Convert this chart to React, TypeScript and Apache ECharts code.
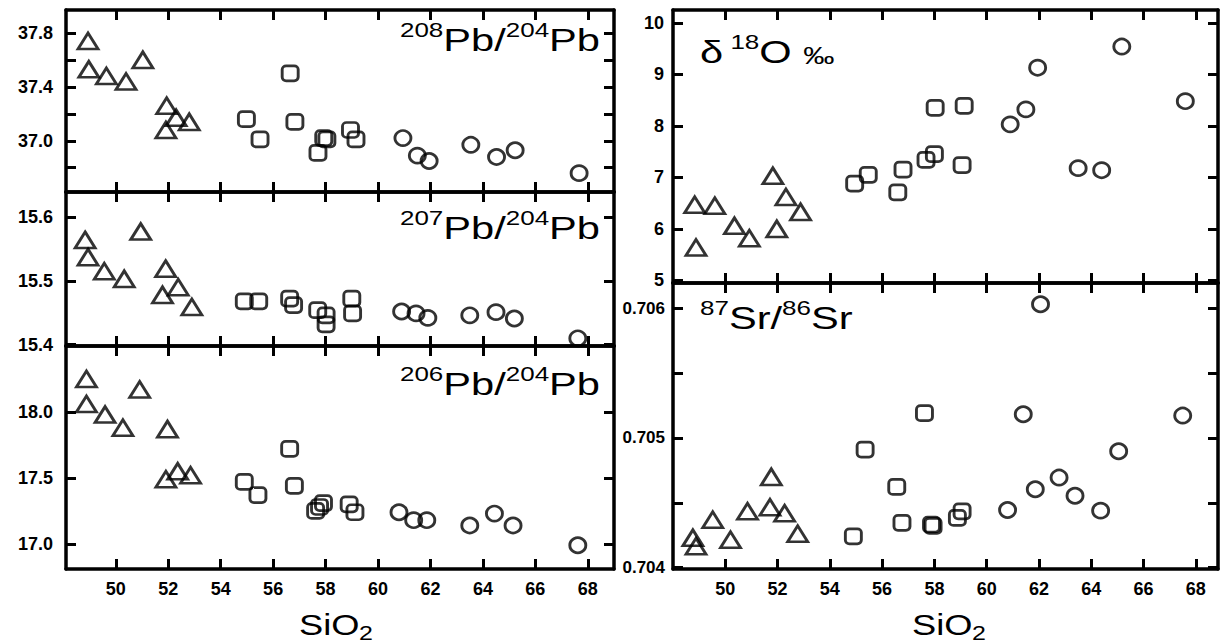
import React, { useEffect, useRef } from 'react';
import * as echarts from 'echarts';

// ---------- data ----------
const SIO2_TICKS = [50, 52, 54, 56, 58, 60, 62, 64, 66, 68];

const PB208_TICKS = [36.8, 37.0, 37.2, 37.4, 37.6, 37.8];
const PB208_LABELS = [37.0, 37.4, 37.8];
const pb208Tri = [[48.94, 37.74], [48.97, 37.53], [49.64, 37.48], [50.39, 37.44], [51.03, 37.6], [51.94, 37.26], [51.91, 37.08], [52.3, 37.17], [52.8, 37.14]];
const pb208Sq = [[54.98, 37.16], [55.5, 37.01], [56.65, 37.5], [56.83, 37.14], [57.71, 36.91], [57.93, 37.02], [58.05, 37.01], [58.95, 37.08], [59.16, 37.01]];
const pb208Ci = [[60.95, 37.02], [61.5, 36.89], [61.95, 36.85], [63.54, 36.97], [64.52, 36.88], [65.23, 36.93], [67.67, 36.76]];

const PB207_TICKS = [15.4, 15.5, 15.6];
const PB207_LABELS = [15.4, 15.5, 15.6];
const pb207Tri = [[48.83, 15.564], [48.94, 15.537], [49.56, 15.515], [50.32, 15.503], [50.95, 15.577], [51.9, 15.519], [51.78, 15.478], [52.38, 15.49], [52.9, 15.459]];
const pb207Sq = [[54.9, 15.468], [55.45, 15.468], [56.63, 15.472], [56.78, 15.462], [57.7, 15.454], [58.02, 15.446], [58.02, 15.432], [59.0, 15.472], [59.03, 15.449]];
const pb207Ci = [[60.9, 15.452], [61.45, 15.449], [61.9, 15.442], [63.5, 15.446], [64.5, 15.451], [65.2, 15.441], [67.62, 15.41]];

const PB206_TICKS = [17.0, 17.5, 18.0];
const PB206_LABELS = [17.0, 17.5, 18.0];
const pb206Tri = [[48.88, 18.25], [48.88, 18.06], [49.59, 17.98], [50.27, 17.88], [50.91, 18.17], [51.97, 17.87], [51.91, 17.49], [52.36, 17.55], [52.85, 17.52]];
const pb206Sq = [[54.9, 17.47], [55.42, 17.37], [56.63, 17.72], [56.81, 17.44], [57.62, 17.25], [57.77, 17.28], [57.92, 17.31], [58.9, 17.3], [59.12, 17.24]];
const pb206Ci = [[60.8, 17.24], [61.36, 17.18], [61.86, 17.18], [63.5, 17.14], [64.44, 17.23], [65.15, 17.14], [67.62, 16.99]];

const O18_TICKS = [5, 6, 7, 8, 9, 10];
const O18_LABELS = [5, 6, 7, 8, 9, 10];
const o18Tri = [[48.83, 6.47], [48.88, 5.64], [49.6, 6.45], [50.35, 6.06], [50.92, 5.82], [51.82, 7.03], [51.97, 6.0], [52.32, 6.62], [52.88, 6.33]];
const o18Sq = [[54.95, 6.88], [55.47, 7.05], [56.6, 6.71], [56.8, 7.15], [57.68, 7.34], [58.0, 7.45], [58.03, 8.35], [59.06, 7.24], [59.14, 8.39]];
const o18Ci = [[60.9, 8.03], [61.5, 8.32], [61.95, 9.13], [63.5, 7.18], [64.4, 7.14], [65.17, 9.54], [67.6, 8.48]];

const SR_TICKS = [0.704, 0.7045, 0.705, 0.7055, 0.706];
const SR_LABELS = [0.704, 0.705, 0.706];
const srTri = [[48.76, 0.70423], [48.88, 0.704165], [49.52, 0.70437], [50.2, 0.704216], [50.85, 0.704435], [51.71, 0.704466], [51.76, 0.7047], [52.27, 0.70442], [52.77, 0.704262]];
const srSq = [[54.9, 0.704242], [55.35, 0.704911], [56.56, 0.704623], [56.76, 0.704346], [57.62, 0.705191], [57.89, 0.704333], [57.95, 0.704322], [58.88, 0.704384], [59.06, 0.704435]];
const srCi = [[60.8, 0.704445], [61.4, 0.705183], [61.86, 0.704605], [62.06, 0.706031], [62.77, 0.704695], [63.38, 0.704555], [64.36, 0.70444], [65.05, 0.704898], [67.5, 0.705173]];

// ---------- layout ----------
const LEFT = { left: 66, width: 548 };
const RIGHT = { left: 673, width: 545 };
const panels = [
  { grid: { ...LEFT, top: 10, height: 182 }, xMin: 48.1, xMax: 69, yMin: 36.62, yMax: 37.97, ticks: PB208_TICKS, labels: PB208_LABELS, digits: 1, xLabels: false, data: [pb208Tri, pb208Sq, pb208Ci] },
  { grid: { ...LEFT, top: 192, height: 154 }, xMin: 48.1, xMax: 69, yMin: 15.398, yMax: 15.639, ticks: PB207_TICKS, labels: PB207_LABELS, digits: 1, xLabels: false, data: [pb207Tri, pb207Sq, pb207Ci] },
  { grid: { ...LEFT, top: 346, height: 223 }, xMin: 48.1, xMax: 69, yMin: 16.81, yMax: 18.5, ticks: PB206_TICKS, labels: PB206_LABELS, digits: 1, xLabels: true, data: [pb206Tri, pb206Sq, pb206Ci] },
  { grid: { ...RIGHT, top: 10, height: 273 }, xMin: 48, xMax: 68.85, yMin: 4.95, yMax: 10.25, ticks: O18_TICKS, labels: O18_LABELS, digits: 0, xLabels: false, data: [o18Tri, o18Sq, o18Ci] },
  { grid: { ...RIGHT, top: 283, height: 286 }, xMin: 48, xMax: 68.85, yMin: 0.70399, yMax: 0.706195, ticks: SR_TICKS, labels: SR_LABELS, digits: 3, xLabels: true, data: [srTri, srSq, srCi] },
];

const FONT = 'Liberation Sans, Arial, sans-serif';
const LINE = { color: '#000', width: 3.5 };
const TICK = { color: '#000', width: 3 };

function buildOption() {
  const grid: any[] = [];
  const xAxis: any[] = [];
  const yAxis: any[] = [];
  const series: any[] = [];
  panels.forEach((p, i) => {
    grid.push({ ...p.grid, containLabel: false });
    const xBase = {
      gridIndex: i, type: 'value', min: p.xMin, max: p.xMax,
      axisLine: { show: true, onZero: false, lineStyle: LINE },
      axisTick: { show: true, inside: true, length: 10, lineStyle: TICK, customValues: SIO2_TICKS },
      splitLine: { show: false },
    };
    xAxis.push({
      ...xBase, position: 'bottom',
      axisLabel: {
        show: p.xLabels, customValues: SIO2_TICKS, margin: 11,
        fontFamily: FONT, fontSize: 18, fontWeight: 'bold', color: '#000',
      },
    });
    xAxis.push({ ...xBase, position: 'top', axisLabel: { show: false } });
    const yBase = {
      gridIndex: i, type: 'value', min: p.yMin, max: p.yMax,
      axisLine: { show: true, onZero: false, lineStyle: LINE },
      axisTick: { show: true, inside: true, length: 10, lineStyle: TICK, customValues: p.ticks },
      splitLine: { show: false },
    };
    yAxis.push({
      ...yBase, position: 'left',
      axisLabel: {
        show: true, customValues: p.labels,
        margin: i === 4 ? 8 : i === 3 ? 9 : 13,
        fontFamily: FONT, fontSize: i === 4 ? 17 : 18, fontWeight: 'bold', color: '#000',
        formatter: (v: number) => v.toFixed(p.digits),
      },
    });
    yAxis.push({ ...yBase, position: 'right', axisLabel: { show: false } });
    const symbols = [
      { symbol: 'triangle', size: [20, 16] },
      { symbol: 'roundRect', size: [16, 15] },
      { symbol: 'circle', size: [16, 15] },
    ];
    p.data.forEach((d, k) => {
      series.push({
        type: 'scatter', xAxisIndex: 2 * i, yAxisIndex: 2 * i,
        data: d, symbol: symbols[k].symbol, symbolSize: symbols[k].size,
        itemStyle: { color: 'rgba(0,0,0,0)', borderColor: '#000', borderWidth: 2.8 },
        silent: true,
      });
    });
  });

  const sup = { fontSize: 20, fontFamily: FONT, verticalAlign: 'top', fill: '#000' };
  const main = { fontSize: 32, fontFamily: FONT, verticalAlign: 'bottom', lineHeight: 36, fill: '#000' };
  const pm = { fontSize: 24, fontFamily: FONT, verticalAlign: 'bottom', fill: '#000' };
  const title = (text: string, x: number, y: number, align: string) => ({
    type: 'text', x, y, scaleX: 1.3,
    style: { text, align, verticalAlign: 'top', rich: { s: sup, m: main, p: pm }, fill: '#000' },
  });
  const sio2 = (cx: number) => ({
    type: 'group', x: cx - 38, y: 610, scaleX: 1.25,
    children: [
      { type: 'text', x: 0, y: 0, style: { text: 'SiO', fontSize: 29, fontFamily: FONT, fill: '#000' } },
      { type: 'text', x: 48, y: 13, style: { text: '2', fontSize: 20, fontFamily: FONT, fill: '#000' } },
    ],
  });

  const graphic = [
    title('{s|208}{m|Pb/}{s|204}{m|Pb}', 600, 20, 'right'),
    title('{s|207}{m|Pb/}{s|204}{m|Pb}', 600, 208, 'right'),
    title('{s|206}{m|Pb/}{s|204}{m|Pb}', 600, 364, 'right'),
    title('{m|δ}{s| 18}{m|O }{p|‰}', 700, 32, 'left'),
    title('{s|87}{m|Sr/}{s|86}{m|Sr}', 700, 298, 'left'),
    sio2(337),
    sio2(950),
  ];

  return {
    animation: false,
    backgroundColor: '#fff',
    grid, xAxis, yAxis, series, graphic,
  };
}

export default function App() {
  const ref = useRef<HTMLDivElement>(null);
  useEffect(() => {
    if (!ref.current) return;
    const chart = echarts.init(ref.current, undefined, { renderer: 'svg' });
    chart.setOption(buildOption() as any);
    return () => chart.dispose();
  }, []);
  return (
    <div
      ref={ref}
      style={{ position: 'fixed', left: 0, top: 0, width: 1222, height: 644, background: '#fff' }}
    />
  );
}
